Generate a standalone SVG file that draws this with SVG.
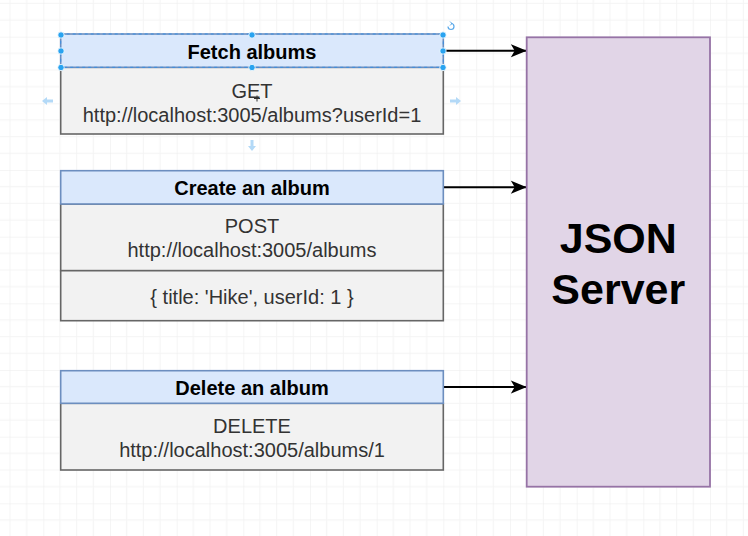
<svg xmlns="http://www.w3.org/2000/svg" width="748" height="536" viewBox="0 0 748 536">
  <defs>
    <pattern id="grid" patternUnits="userSpaceOnUse" x="43.333" y="36.667" width="66.667" height="66.667">
      <path d="M16.667 0V66.667M33.333 0V66.667M50 0V66.667M0 16.667H66.667M0 33.333H66.667M0 50H66.667" stroke="#f4f4f4" stroke-width="1" fill="none"/>
      <path d="M0 0V66.667M0 0H66.667" stroke="#ececec" stroke-width="1" fill="none"/>
    </pattern>
    <marker id="arrow" markerUnits="userSpaceOnUse" markerWidth="18" markerHeight="16" refX="16" refY="8" orient="auto">
      <path d="M16 8L0 1.3L4 8L0 14.7Z" fill="#000"/>
    </marker>
    <style>
      .hdr{fill:#dae8fc;stroke:#6c8ebf;stroke-width:1.6}
      .body{fill:#f2f2f2;stroke:#666;stroke-width:1.6}
      .title{font-family:"Liberation Sans",Arial,sans-serif;font-size:20px;font-weight:bold;fill:#000;text-anchor:middle}
      .txt{font-family:"Liberation Sans",Arial,sans-serif;font-size:20px;fill:#333;text-anchor:middle}
      .big{font-family:"Liberation Sans",Arial,sans-serif;font-size:43px;font-weight:bold;fill:#000;text-anchor:middle}
      .conn{stroke:#000;stroke-width:2;fill:none}
      .handle{fill:#29a3f0;stroke:#fff;stroke-width:0.8}
      .hover{fill:#b3d9f7}
    </style>
  </defs>
  <rect width="748" height="536" fill="#fff"/>
  <rect width="748" height="536" fill="url(#grid)"/>

  <g id="connectors">
    <path class="conn" d="M443.3 50.7H526.7" marker-end="url(#arrow)"/>
    <path class="conn" d="M443.3 187.3H526.7" marker-end="url(#arrow)"/>
    <path class="conn" d="M443.3 387H526.7" marker-end="url(#arrow)"/>
  </g>

  <g id="fetch-albums">
    <rect class="body" x="60.7" y="67.3" width="382.6" height="66.7"/>
    <rect class="hdr" x="60.7" y="34" width="382.6" height="33.3"/>
    <text class="title" x="252" y="59">Fetch albums</text>
    <text class="txt" x="252" y="98">GET</text>
    <text class="txt" x="252" y="122">http://localhost:3005/albums?userId=1</text>
  </g>

  <g id="create-album">
    <rect class="body" x="60.7" y="204" width="382.6" height="66.7"/>
    <rect class="body" x="60.7" y="270.7" width="382.6" height="50"/>
    <rect class="hdr" x="60.7" y="170.7" width="382.6" height="33.3"/>
    <text class="title" x="252" y="195">Create an album</text>
    <text class="txt" x="252" y="233.3">POST</text>
    <text class="txt" x="252" y="257">http://localhost:3005/albums</text>
    <text class="txt" x="252" y="304">{ title: 'Hike', userId: 1 }</text>
  </g>

  <g id="delete-album">
    <rect class="body" x="60.7" y="403.3" width="382.6" height="66.7"/>
    <rect class="hdr" x="60.7" y="370.7" width="382.6" height="32.6"/>
    <text class="title" x="252" y="395">Delete an album</text>
    <text class="txt" x="252" y="433.3">DELETE</text>
    <text class="txt" x="252" y="457">http://localhost:3005/albums/1</text>
  </g>

  <g id="json-server">
    <rect x="526.7" y="37.3" width="183.3" height="449.4" fill="#e1d5e7" stroke="#9673a6" stroke-width="1.8"/>
    <text class="big" x="618.3" y="253">JSON</text>
    <text class="big" x="618.3" y="304">Server</text>
  </g>

  <g id="selection">
    <rect x="60.7" y="34" width="382.6" height="33.3" fill="none" stroke="#3d8fe0" stroke-width="1" stroke-dasharray="3 3"/>
    <circle class="handle" cx="61" cy="35" r="3.2"/>
    <circle class="handle" cx="252" cy="35" r="3.2"/>
    <circle class="handle" cx="443" cy="35" r="3.2"/>
    <circle class="handle" cx="61" cy="51" r="3.2"/>
    <circle class="handle" cx="443" cy="51" r="3.2"/>
    <circle class="handle" cx="61" cy="67.5" r="3.2"/>
    <circle class="handle" cx="252" cy="67.5" r="3.2"/>
    <circle class="handle" cx="443" cy="67.5" r="3.2"/>
    <path d="M448 26.5a3 3 0 1 0 3-3" fill="none" stroke="#5aa9ea" stroke-width="1.2"/>
    <path d="M450 21.5l2 2l-2 2" fill="none" stroke="#5aa9ea" stroke-width="1"/>
    <path class="hover" d="M42 101l5-4v2.5h6v3h-6v2.5z"/>
    <path class="hover" d="M461 101l-5-4v2.5h-6v3h6v2.5z"/>
    <path class="hover" d="M252 151l-4-5h2.5v-6h3v6h2.5z"/>
    <path d="M254 98.5h6M257 95.5v6" stroke="#333" stroke-width="1"/>
  </g>
</svg>
